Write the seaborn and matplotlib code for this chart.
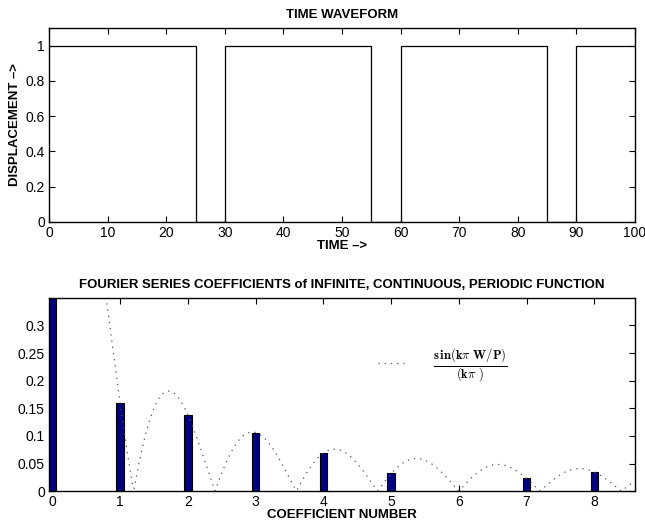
import numpy as np
import pandas as pd
import matplotlib
matplotlib.use("Agg")
import matplotlib.pyplot as plt
import seaborn as sns

# Square-wave time record: pulse edges and levels
time_pts = [0, 25, 25, 30, 30, 55, 55, 60, 60, 85, 85, 90, 90, 100]
displacement = [1, 1, 0, 0, 1, 1, 0, 0, 1, 1, 0, 0, 1, 1]

# Fourier coefficients of the pulse train (k = 0..8)
coef_number = [0, 1, 2, 3, 4, 5, 6, 7, 8]
coef_value = [0.8333, 0.159, 0.138, 0.106, 0.069, 0.032, 0.0, 0.023, 0.035]

# Pulse width W and period P of the waveform
pulse_width = 25
period = 30

sns.set_style("ticks")
plt.rcParams["font.family"] = ["Liberation Sans", "DejaVu Sans"]
plt.rcParams["mathtext.fontset"] = "cm"
plt.rcParams["xtick.direction"] = "in"
plt.rcParams["ytick.direction"] = "in"
plt.rcParams["xtick.top"] = True
plt.rcParams["ytick.right"] = True
plt.rcParams["xtick.labelsize"] = 10
plt.rcParams["ytick.labelsize"] = 10
plt.rcParams["axes.linewidth"] = 1.0
plt.rcParams["text.color"] = "black"
plt.rcParams["axes.labelcolor"] = "black"
plt.rcParams["xtick.color"] = "black"
plt.rcParams["ytick.color"] = "black"

fig = plt.figure(figsize=(6.45, 5.27), dpi=100)
ax1 = fig.add_axes([0.076, 0.579, 0.9085, 0.368])
ax2 = fig.add_axes([0.076, 0.068, 0.9085, 0.367])

# --- time waveform ---
wave = pd.DataFrame({"t": time_pts, "d": displacement})
sns.lineplot(data=wave, x="t", y="d", ax=ax1, color="black", lw=0.9,
             sort=False, estimator=None)
ax1.set_xlim(0, 100)
ax1.set_ylim(0, 1.1)
ax1.set_xticks(np.arange(0, 101, 10))
ax1.set_yticks([0, 0.2, 0.4, 0.6, 0.8, 1])
ax1.set_yticklabels(["0", "0.2", "0.4", "0.6", "0.8", "1"])
ax1.set_title("TIME WAVEFORM", fontsize=9.5, fontweight="bold", pad=7)
ax1.set_xlabel("TIME \u2013>", fontsize=9.5, fontweight="bold", labelpad=0)
ax1.set_ylabel("DISPLACEMENT \u2013>", fontsize=9.5, fontweight="bold", labelpad=3)

# --- Fourier coefficients ---
coefs = pd.DataFrame({"k": coef_number, "c": coef_value})
sns.barplot(data=coefs, x="k", y="c", ax=ax2, native_scale=True, width=0.11,
            color="#000080", edgecolor="black", linewidth=0.8, saturation=1)

k = np.linspace(0.001, 8.6, 600)
ratio = pulse_width / period
envelope = np.abs(np.sin(k * np.pi * ratio) / (k * np.pi))
sns.lineplot(x=k, y=envelope, ax=ax2, color="#555555", lw=0.9,
             linestyle=(0, (1, 4)), estimator=None, sort=False,
             label=r"$\frac{\mathbf{s\,in(k}\pi\ \mathbf{W/P)}}{\mathbf{(k}\pi\ \mathbf{)}}$")
leg = ax2.legend(loc="center", bbox_to_anchor=(0.672, 0.647), frameon=False,
                 fontsize=13, handlelength=1.7, handletextpad=1.3)

ax2.set_xlim(-0.05, 8.6)
ax2.set_ylim(0, 0.35)
ax2.set_xticks(range(0, 9))
ax2.set_yticks([0, 0.05, 0.1, 0.15, 0.2, 0.25, 0.3])
ax2.set_yticklabels(["0", "0.05", "0.1", "0.15", "0.2", "0.25", "0.3"])
ax2.set_title("FOURIER SERIES COEFFICIENTS of INFINITE, CONTINUOUS, PERIODIC FUNCTION",
              fontsize=9.5, fontweight="bold", pad=7)
ax2.set_xlabel("COEFFICIENT NUMBER", fontsize=9.5, fontweight="bold", labelpad=0)
ax2.set_ylabel("")

for ax in (ax1, ax2):
    for s in ax.spines.values():
        s.set_visible(True)
        s.set_color("black")
    ax.tick_params(length=4, width=0.8, colors="black", pad=3)

fig.savefig("out.png", dpi=100)
